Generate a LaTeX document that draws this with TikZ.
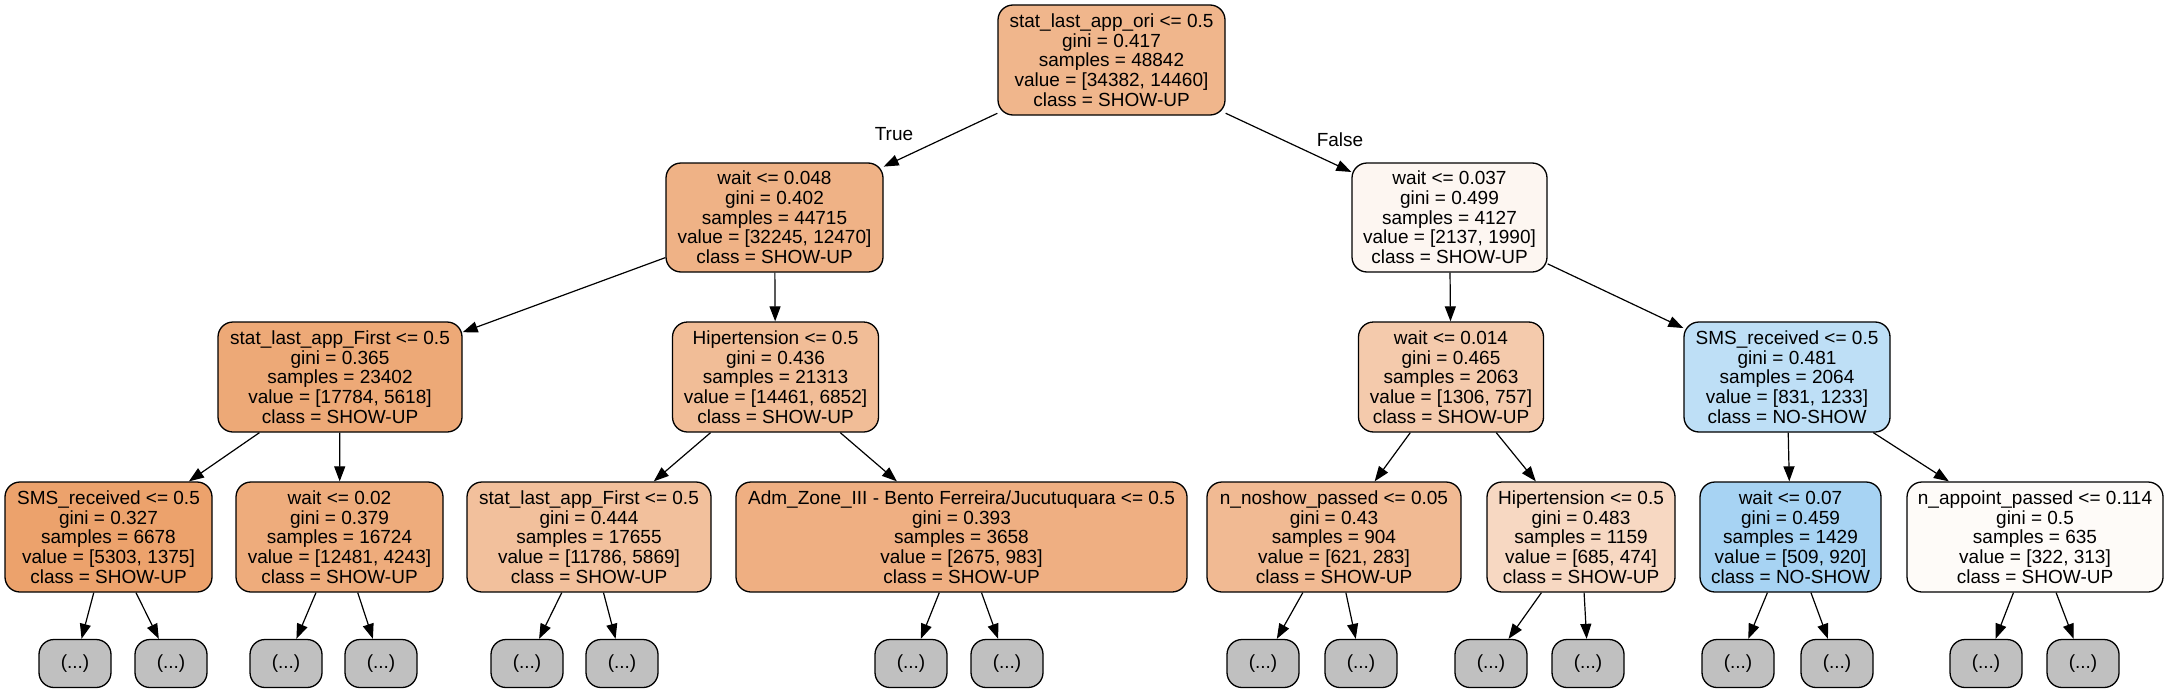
\documentclass[tikz,border=0pt]{standalone}
\usepackage{fontspec}
\setmainfont{Liberation Sans}
\usetikzlibrary{arrows.meta}
\definecolor{cRoot}{RGB}{240,182,140}
\definecolor{cA}{RGB}{239,178,134}
\definecolor{cB}{RGB}{253,246,241}
\definecolor{cC}{RGB}{237,169,119}
\definecolor{cD}{RGB}{241,189,151}
\definecolor{cE}{RGB}{244,202,172}
\definecolor{cF}{RGB}{190,223,246}
\definecolor{cG}{RGB}{236,162,108}
\definecolor{cH}{RGB}{238,172,124}
\definecolor{cI}{RGB}{242,192,156}
\definecolor{cJ}{RGB}{239,175,130}
\definecolor{cK}{RGB}{241,186,147}
\definecolor{cL}{RGB}{247,216,194}
\definecolor{cM}{RGB}{167,211,243}
\definecolor{cN}{RGB}{254,251,248}
\definecolor{leafgray}{RGB}{192,192,192}
\tikzset{
  tfont/.style={font=\fontsize{19}{19.7}\selectfont},
  tnode/.style={draw=black, line width=1.3pt, rounded corners=15pt, align=center,
    inner sep=0pt, tfont, minimum height=110pt},
  tleaf/.style={draw=black, line width=1.3pt, rounded corners=15pt, fill=leafgray,
    inner sep=0pt, tfont, minimum width=72pt, minimum height=48pt},
  edge/.style={line width=1.2pt, -{Triangle[length=15pt,width=11pt]}},
  elabel/.style={tfont, inner sep=0pt}
}
\begin{document}
\begin{tikzpicture}[x=1pt,y=-1pt]
\useasboundingbox[fill=white] (0,0) rectangle (2167,693);
% level 0
\node[tnode, fill=cRoot, minimum width=227pt] (root) at (1111.5,60)
  {stat\_last\_app\_ori <= 0.5\\gini = 0.417\\samples = 48842\\value = [34382, 14460]\\class = SHOW-UP};
% level 1
\node[tnode, fill=cA, minimum width=217pt, minimum height=109pt] (n1) at (774.5,217.5)
  {wait <= 0.048\\gini = 0.402\\samples = 44715\\value = [32245, 12470]\\class = SHOW-UP};
\node[tnode, fill=cB, minimum width=195pt, minimum height=109pt] (n2) at (1449.5,217.5)
  {wait <= 0.037\\gini = 0.499\\samples = 4127\\value = [2137, 1990]\\class = SHOW-UP};
% level 2
\node[tnode, fill=cC, minimum width=244pt] (n3) at (340,377)
  {stat\_last\_app\_First <= 0.5\\gini = 0.365\\samples = 23402\\value = [17784, 5618]\\class = SHOW-UP};
\node[tnode, fill=cD, minimum width=206pt] (n4) at (775.5,377)
  {Hipertension <= 0.5\\gini = 0.436\\samples = 21313\\value = [14461, 6852]\\class = SHOW-UP};
\node[tnode, fill=cE, minimum width=185pt] (n5) at (1451,377)
  {wait <= 0.014\\gini = 0.465\\samples = 2063\\value = [1306, 757]\\class = SHOW-UP};
\node[tnode, fill=cF, minimum width=206pt] (n6) at (1787,377)
  {SMS\_received <= 0.5\\gini = 0.481\\samples = 2064\\value = [831, 1233]\\class = NO-SHOW};
% level 3
\node[tnode, fill=cG, minimum width=207pt] (n7) at (108.5,537)
  {SMS\_received <= 0.5\\gini = 0.327\\samples = 6678\\value = [5303, 1375]\\class = SHOW-UP};
\node[tnode, fill=cH, minimum width=207pt] (n8) at (339.5,537)
  {wait <= 0.02\\gini = 0.379\\samples = 16724\\value = [12481, 4243]\\class = SHOW-UP};
\node[tnode, fill=cI, minimum width=244pt] (n9) at (589,537)
  {stat\_last\_app\_First <= 0.5\\gini = 0.444\\samples = 17655\\value = [11786, 5869]\\class = SHOW-UP};
\node[tnode, fill=cJ, minimum width=451pt] (n10) at (961.5,537)
  {Adm\_Zone\_III - Bento Ferreira/Jucutuquara <= 0.5\\gini = 0.393\\samples = 3658\\value = [2675, 983]\\class = SHOW-UP};
\node[tnode, fill=cK, minimum width=254pt] (n11) at (1334,537)
  {n\_noshow\_passed <= 0.05\\gini = 0.43\\samples = 904\\value = [621, 283]\\class = SHOW-UP};
\node[tnode, fill=cL, minimum width=188pt] (n12) at (1581,537)
  {Hipertension <= 0.5\\gini = 0.483\\samples = 1159\\value = [685, 474]\\class = SHOW-UP};
\node[tnode, fill=cM, minimum width=181pt] (n13) at (1790.5,537)
  {wait <= 0.07\\gini = 0.459\\samples = 1429\\value = [509, 920]\\class = NO-SHOW};
\node[tnode, fill=cN, minimum width=256pt] (n14) at (2035,537)
  {n\_appoint\_passed <= 0.114\\gini = 0.5\\samples = 635\\value = [322, 313]\\class = SHOW-UP};
% leaves
\node[tleaf] (l1) at (75,663.5) {(...)};
\node[tleaf] (l2) at (171,663.5) {(...)};
\node[tleaf] (l3) at (286,663.5) {(...)};
\node[tleaf] (l4) at (381,663.5) {(...)};
\node[tleaf] (l5) at (527,663.5) {(...)};
\node[tleaf] (l6) at (622,663.5) {(...)};
\node[tleaf] (l7) at (911,663.5) {(...)};
\node[tleaf] (l8) at (1007,663.5) {(...)};
\node[tleaf] (l9) at (1263,663.5) {(...)};
\node[tleaf] (l10) at (1361,663.5) {(...)};
\node[tleaf] (l11) at (1491,663.5) {(...)};
\node[tleaf] (l12) at (1588,663.5) {(...)};
\node[tleaf] (l13) at (1738,663.5) {(...)};
\node[tleaf] (l14) at (1837,663.5) {(...)};
\node[tleaf] (l15) at (1986,663.5) {(...)};
\node[tleaf] (l16) at (2083,663.5) {(...)};
% edges
\draw[edge] (root) -- (n1);
\draw[edge] (root) -- (n2);
\draw[edge] (n1) -- (n3);
\draw[edge] (n1) -- (n4);
\draw[edge] (n2) -- (n5);
\draw[edge] (n2) -- (n6);
\draw[edge] (n3) -- (n7);
\draw[edge] (n3) -- (n8);
\draw[edge] (n4) -- (n9);
\draw[edge] (n4) -- (n10);
\draw[edge] (n5) -- (n11);
\draw[edge] (n5) -- (n12);
\draw[edge] (n6) -- (n13);
\draw[edge] (n6) -- (n14);
\draw[edge] (n7) -- (l1);
\draw[edge] (n7) -- (l2);
\draw[edge] (n8) -- (l3);
\draw[edge] (n8) -- (l4);
\draw[edge] (n9) -- (l5);
\draw[edge] (n9) -- (l6);
\draw[edge] (n10) -- (l7);
\draw[edge] (n10) -- (l8);
\draw[edge] (n11) -- (l9);
\draw[edge] (n11) -- (l10);
\draw[edge] (n12) -- (l11);
\draw[edge] (n12) -- (l12);
\draw[edge] (n13) -- (l13);
\draw[edge] (n13) -- (l14);
\draw[edge] (n14) -- (l15);
\draw[edge] (n14) -- (l16);
% edge labels
\node[elabel] (ltrue) at (894,134) {True};
\node[elabel] (lfalse) at (1340,140) {False};
\end{tikzpicture}
\end{document}
